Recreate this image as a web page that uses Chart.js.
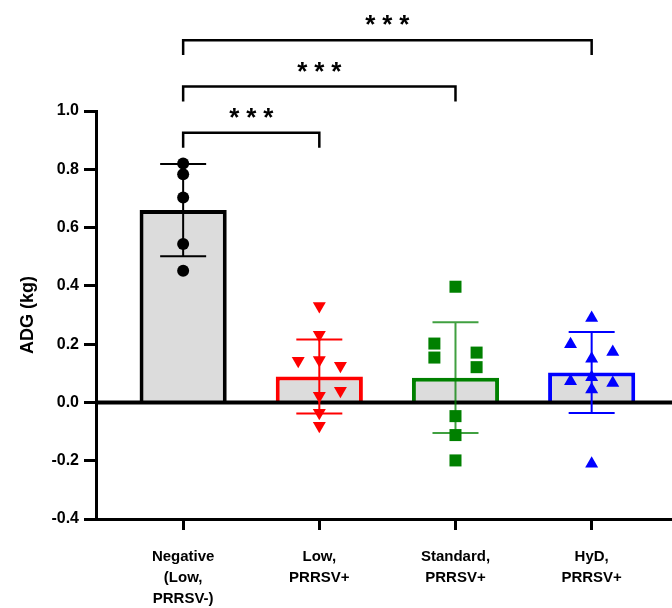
<!DOCTYPE html>
<html>
<head>
<meta charset="utf-8">
<script src="https://cdn.jsdelivr.net/npm/chart.js@4"></script>
<style>
  html, body { margin: 0; padding: 0; background: #fff; }
  #wrap { width: 672px; height: 608px; position: relative; }
</style>
</head>
<body>
<div id="wrap"><canvas id="c"></canvas></div>
<script>
/* ADG by group: mean bar + SD + individual animals */

const groupLabels = [["Negative", "(Low,", "PRRSV-)"], ["Low,", "PRRSV+"], ["Standard,", "PRRSV+"], ["HyD,", "PRRSV+"]];
const groupMeans = [0.66, 0.089, 0.085, 0.103];
const groupSDs = [0.158, 0.127, 0.19, 0.139];

// individual points; *Cols = jitter column (-1 left, 0 centre, 1 right)
const negValues = [0.82, 0.783, 0.703, 0.544, 0.452];
const negCols = [0, 0, 0, 0, 0];
const lowValues = [0.331, 0.232, 0.143, 0.146, 0.126, 0.04, 0.023, -0.035, -0.08];
const lowCols = [0, 0, -1, 0, 1, 1, 0, 0, 0];
const stdValues = [0.397, 0.202, 0.154, 0.171, 0.121, -0.047, -0.112, -0.199];
const stdCols = [0, -1, -1, 1, 1, 0, 0, 0];
const hydValues = [0.29, 0.2, 0.173, 0.15, 0.086, 0.073, 0.067, 0.044, -0.21];
const hydCols = [0, -1, 1, 0, 0, -1, 1, 0, 0];

const comparisons = [[0, 1, "***"], [0, 2, "***"], [0, 3, "***"]];
const yTicks = [-0.4, -0.2, 0, 0.2, 0.4, 0.6, 0.8, 1.0];

const groupColors = ["#000000", "#ff0000", "#008000", "#0000ff"];
const errColors = ["#000000", "#ff0000", "rgba(0,128,0,0.75)", "#0000ff"];
const JITTER = 0.155;
const FONT = "'Liberation Sans', Arial, sans-serif";

function pts(values, cols, gi) {
  return values.map((v, i) => ({ x: gi + cols[i] * JITTER, y: v }));
}

const decor = {
  id: "decor",
  afterDatasetDraw(chart, args) {
    if (args.index !== 0) return;
    const { ctx, chartArea, scales: { x, y } } = chart;
    ctx.save();
    // zero line
    ctx.strokeStyle = "#000";
    ctx.lineWidth = 4;
    ctx.beginPath();
    ctx.moveTo(chartArea.left, y.getPixelForValue(0));
    ctx.lineTo(chartArea.right, y.getPixelForValue(0));
    ctx.stroke();
    // SD bars
    ctx.lineWidth = 2;
    groupMeans.forEach((m, i) => {
      const cx = x.getPixelForValue(i);
      const hi = y.getPixelForValue(m + groupSDs[i]);
      const lo = y.getPixelForValue(m - groupSDs[i]);
      ctx.strokeStyle = errColors[i];
      ctx.beginPath();
      ctx.moveTo(cx, hi); ctx.lineTo(cx, lo);
      ctx.moveTo(cx - 23, hi); ctx.lineTo(cx + 23, hi);
      ctx.moveTo(cx - 23, lo); ctx.lineTo(cx + 23, lo);
      ctx.stroke();
    });
    ctx.restore();
  },
  afterDraw(chart) {
    const { ctx, scales: { x, y } } = chart;
    ctx.save();
    ctx.strokeStyle = "#000";
    ctx.fillStyle = "#000";
    ctx.lineWidth = 2.5;
    ctx.font = "bold 26px " + FONT;
    ctx.textAlign = "center";
    ctx.textBaseline = "alphabetic";
    comparisons.forEach(([a, b, txt], k) => {
      const level = 0.925 + k * 0.159;
      const yy = y.getPixelForValue(level);
      const yd = y.getPixelForValue(level - 0.051);
      const xa = x.getPixelForValue(a), xb = x.getPixelForValue(b);
      ctx.beginPath();
      ctx.moveTo(xa, yd); ctx.lineTo(xa, yy); ctx.lineTo(xb, yy); ctx.lineTo(xb, yd);
      ctx.stroke();
      // stars, spaced out like the original
      const mid = (xa + xb) / 2;
      [...txt].forEach((ch, j) => {
        ctx.fillText(ch, mid + (j - (txt.length - 1) / 2) * 17, yy - 7);
      });
    });
    ctx.restore();
  },
};

const scatterBase = { type: "scatter", borderWidth: 0, pointHoverRadius: 7 };

new Chart(document.getElementById("c"), {
  type: "bar",
  data: {
    datasets: [
      {
        label: "Mean",
        data: groupMeans.map((v, i) => ({ x: i, y: v })),
        backgroundColor: "#dcdcdc",
        borderColor: groupColors,
        borderWidth: 4,
        categoryPercentage: 1,
        barPercentage: 0.64,
        order: 2,
      },
      { ...scatterBase, data: pts(negValues, negCols, 0), pointStyle: "circle", pointRadius: 6, backgroundColor: "#000", order: 1 },
      { ...scatterBase, data: pts(lowValues, lowCols, 1), pointStyle: "triangle", rotation: 180, pointRadius: 7.5, backgroundColor: "#ff0000", order: 1 },
      { ...scatterBase, data: pts(stdValues, stdCols, 2), pointStyle: "rect", pointRadius: 8.5, backgroundColor: "#008000", order: 1 },
      { ...scatterBase, data: pts(hydValues, hydCols, 3), pointStyle: "triangle", pointRadius: 7.5, backgroundColor: "#0000ff", order: 1 },
    ],
  },
  options: {
    animation: false,
    responsive: true,
    maintainAspectRatio: false,
    layout: { autoPadding: false, padding: { top: 111, right: 0, left: 0, bottom: 0 } },
    plugins: { legend: { display: false }, tooltip: { enabled: false } },
    scales: {
      x: {
        type: "linear",
        offset: false,
        min: -0.64,
        max: 3.59,
        afterBuildTicks: (s) => { s.ticks = groupLabels.map((g, i) => ({ value: i })); },
        afterFit: (s) => { s.height = 89; s.paddingLeft = 0; s.paddingRight = 0; },
        ticks: {
          callback: (v) => groupLabels[v],
          color: "#000",
          font: { family: FONT, size: 15, weight: "bold", lineHeight: 1.4 },
          padding: 16,
          maxRotation: 0,
          autoSkip: false,
        },
        grid: { offset: false, drawOnChartArea: false, drawTicks: true, tickLength: 11, color: "#000", lineWidth: 3 },
        border: { display: true, color: "#000", width: 3 },
      },
      y: {
        min: -0.4,
        max: 1.0,
        afterBuildTicks: (s) => { s.ticks = yTicks.map((v) => ({ value: v })); },
        afterFit: (s) => { s.width = 96; },
        ticks: {
          callback: (v) => (Math.abs(v) < 1e-9 ? "0.0" : v.toFixed(1)),
          color: "#000",
          font: { family: FONT, size: 16, weight: "bold" },
          padding: 5,
        },
        grid: { drawOnChartArea: false, drawTicks: true, tickLength: 12, color: "#000", lineWidth: 3 },
        border: { display: true, color: "#000", width: 3 },
        title: {
          display: true,
          text: "ADG (kg)",
          color: "#000",
          font: { family: FONT, size: 18, weight: "bold" },
          padding: { top: 17, bottom: 0 },
        },
      },
    },
  },
  plugins: [decor],
});
</script>
</body>
</html>
